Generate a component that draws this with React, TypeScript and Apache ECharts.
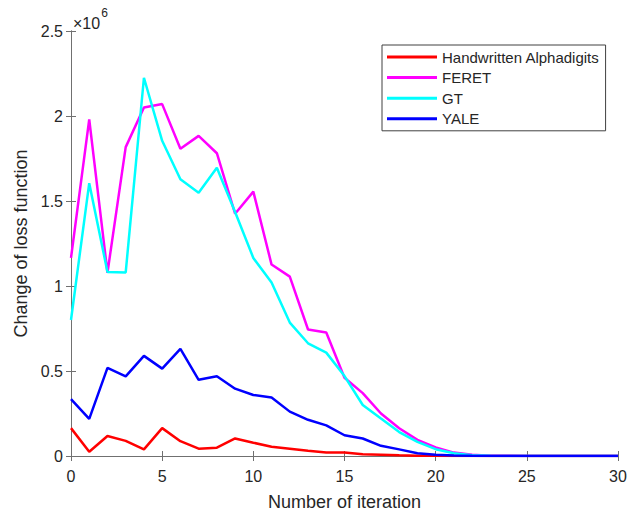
import React, { useEffect, useRef } from "react";
import * as echarts from "echarts";

const iterations = [0, 1, 2, 3, 4, 5, 6, 7, 8, 9, 10, 11, 12, 13, 14, 15, 16, 17, 18, 19, 20, 21, 22, 23, 24, 25, 26, 27, 28, 29, 30];

const handwritten = [0.164, 0.025, 0.118, 0.089, 0.039, 0.164, 0.087, 0.043, 0.049, 0.103, 0.078, 0.054, 0.043, 0.031, 0.021, 0.021, 0.01, 0.008, 0.004, 0.002, 0.001, 0.0005, 0, 0, 0, 0, 0, 0, 0, 0, 0];
const feret = [1.165, 1.98, 1.078, 1.817, 2.05, 2.07, 1.807, 1.883, 1.781, 1.425, 1.555, 1.126, 1.055, 0.744, 0.727, 0.46, 0.37, 0.25, 0.163, 0.095, 0.05, 0.02, 0.008, 0.002, 0.001, 0, 0, 0, 0, 0, 0];
const gt = [0.8, 1.605, 1.083, 1.08, 2.225, 1.854, 1.628, 1.549, 1.696, 1.435, 1.165, 1.02, 0.785, 0.663, 0.608, 0.47, 0.3, 0.22, 0.141, 0.083, 0.04, 0.016, 0.005, 0.001, 0, 0, 0, 0, 0, 0, 0];
const yale = [0.334, 0.218, 0.518, 0.468, 0.589, 0.514, 0.63, 0.448, 0.469, 0.396, 0.359, 0.344, 0.261, 0.213, 0.18, 0.122, 0.103, 0.06, 0.039, 0.016, 0.007, 0.003, 0.001, 0, 0, 0, 0, 0, 0, 0, 0];

const seriesNames = ["Handwritten Alphadigits", "FERET", "GT", "YALE"];
const seriesColors = ["#ff0000", "#ff00ff", "#00ffff", "#0000ff"];
const seriesValues = [handwritten, feret, gt, yale];

const yTickLabels = ["0", "0.5", "1", "1.5", "2", "2.5"];

const FONT = "Liberation Sans, Arial, sans-serif";
const AXIS = "#707070";
const TEXT = "#262626";

export default function App() {
  const ref = useRef<HTMLDivElement>(null);
  useEffect(() => {
    if (!ref.current) return;
    const chart = echarts.init(ref.current, undefined, { renderer: "svg" });
    const axisCommon = {
      axisLine: { show: true, lineStyle: { color: AXIS, width: 1 } },
      axisTick: { show: true, inside: true, length: 5, lineStyle: { color: AXIS } },
      splitLine: { show: false },
    };
    chart.setOption({
      animation: false,
      backgroundColor: "#ffffff",
      textStyle: { fontFamily: FONT },
      grid: { left: 71, right: 20, top: 31, bottom: 53, containLabel: false },
      legend: {
        orient: "vertical",
        left: 382,
        top: 45,
        padding: [4, 6, 4, 5],
        itemWidth: 50,
        itemHeight: 3,
        itemGap: 4.6,
        icon: "rect",
        borderColor: "#404040",
        borderWidth: 1,
        backgroundColor: "#ffffff",
        textStyle: { fontSize: 15, color: TEXT, fontFamily: FONT, lineHeight: 16 },
        data: seriesNames,
      },
      xAxis: [
        {
          type: "value",
          min: 0,
          max: 30,
          interval: 5,
          position: "bottom",
          name: "Number of iteration",
          nameLocation: "middle",
          nameGap: 37,
          nameTextStyle: { fontSize: 18, color: TEXT, fontFamily: FONT },
          axisLabel: { fontSize: 16, color: TEXT, margin: 12, fontFamily: FONT },
          ...axisCommon,
        },
        {
          type: "value",
          min: 0,
          max: 30,
          interval: 5,
          position: "top",
          axisLabel: { show: false },
          ...axisCommon,
        },
      ],
      yAxis: [
        {
          type: "value",
          min: 0,
          max: 2.5,
          interval: 0.5,
          position: "left",
          name: "Change of loss function",
          nameLocation: "middle",
          nameGap: 34,
          nameTextStyle: { fontSize: 18, color: TEXT, fontFamily: FONT },
          axisLabel: {
            fontSize: 16,
            color: TEXT,
            margin: 8,
            fontFamily: FONT,
            formatter: (v: number) => yTickLabels[Math.round(v / 0.5)] ?? String(v),
          },
          ...axisCommon,
        },
        {
          type: "value",
          min: 0,
          max: 2.5,
          interval: 0.5,
          position: "right",
          axisLabel: { show: false },
          ...axisCommon,
        },
      ],
      graphic: [
        {
          type: "text",
          left: 73,
          top: 7,
          style: {
            text: "{a|×10}{b|6}",
            fontFamily: FONT,
            rich: {
              a: { fontSize: 16, fill: TEXT, fontFamily: FONT, verticalAlign: "bottom", lineHeight: 24 },
              b: { fontSize: 12, fill: TEXT, fontFamily: FONT, verticalAlign: "top", padding: [0, 0, 10, 1] },
            },
          },
        },
      ],
      series: seriesNames.map((name, i) => ({
        name,
        type: "line",
        xAxisIndex: 0,
        yAxisIndex: 0,
        symbol: "none",
        color: seriesColors[i],
        lineStyle: { color: seriesColors[i], width: 2.5 },
        itemStyle: { color: seriesColors[i] },
        data: iterations.map((x, j) => [x, seriesValues[i][j]]),
      })),
    });
    return () => chart.dispose();
  }, []);
  return (
    <div
      ref={ref}
      style={{ position: "fixed", left: 0, top: 0, width: 638, height: 516 }}
    />
  );
}
